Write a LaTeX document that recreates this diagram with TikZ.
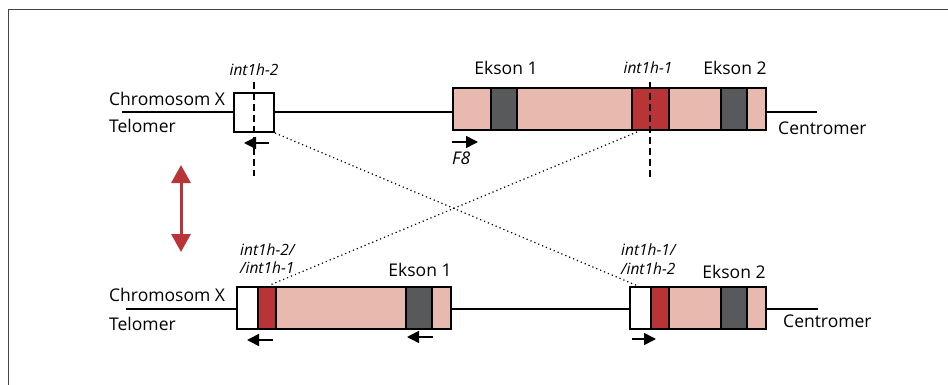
\documentclass[tikz,border=0pt]{standalone}
\usepackage{fontspec}
\setmainfont{Open Sans}
\usetikzlibrary{arrows.meta}
\definecolor{exonpink}{HTML}{E8B9AE}
\definecolor{intred}{HTML}{B93437}
\definecolor{exdark}{HTML}{58595B}
\definecolor{framegray}{HTML}{444444}
\tikzset{
  seg/.style={draw=black, line width=1.1pt, inner sep=0pt, outer sep=0pt, anchor=north west, minimum height=42pt},
  wseg/.style={seg, fill=white},
  pseg/.style={seg, fill=exonpink},
  rseg/.style={seg, fill=intred},
  dseg/.style={seg, fill=exdark},
  chrom/.style={line width=1.1pt, black},
  cut/.style={line width=1.2pt, dash pattern=on 7pt off 4pt},
  cross/.style={line width=1.2pt, dash pattern=on 1.2pt off 3pt},
  lab/.style={inner sep=0pt, font=\fontsize{17.5}{20}\selectfont},
  ilab/.style={inner sep=0pt, font=\fontsize{15.5}{19}\selectfont\itshape},
  prim/.style={line width=1.6pt, -{Triangle[length=12pt,width=12pt]}},
  swap/.style={line width=3pt, draw=intred, {Triangle[length=18pt,width=19pt]}-{Triangle[length=18pt,width=19pt]}}
}
\begin{document}
\begin{tikzpicture}[x=1pt,y=-1pt]
\useasboundingbox (0,0) rectangle (948,385);
\draw[framegray, line width=1.6pt] (8.5,385) -- (8.5,9.5) -- (948,9.5);

% ---------- top chromosome ----------
\coordinate (tA) at (122,112);
\coordinate (tZ) at (817,112);
\node[wseg, minimum width=40pt, minimum height=39pt] (sb) at (234,93) {};
\node[pseg, minimum width=38pt] (t1) at (453,88) {};
\node[dseg, minimum width=26pt] (t2) at (491,88) {};
\node[pseg, minimum width=115pt] (t3) at (517,88) {};
\node[rseg, minimum width=37pt] (t4) at (632,88) {};
\node[pseg, minimum width=52pt] (t5) at (669,88) {};
\node[dseg, minimum width=26pt] (t6) at (721,88) {};
\node[pseg, minimum width=19pt] (t7) at (747,88) {};
\draw[chrom] (tA) -- (tA -| sb.west);
\draw[chrom] (sb.east |- tA) -- (tA -| t1.west);
\draw[chrom] (t7.east |- tZ) -- (tZ);

% ---------- bottom chromosome ----------
\coordinate (bA) at (126,309);
\coordinate (bZ) at (818,309);
\node[wseg, minimum width=21pt] (l1) at (237,287) {};
\node[rseg, minimum width=18pt] (l2) at (258,287) {};
\node[pseg, minimum width=130pt] (l3) at (276,287) {};
\node[dseg, minimum width=26pt] (l4) at (406,287) {};
\node[pseg, minimum width=19pt] (l5) at (432,287) {};
\node[wseg, minimum width=21pt] (r1) at (630,287) {};
\node[rseg, minimum width=18pt] (r2) at (651,287) {};
\node[pseg, minimum width=52pt] (r3) at (669,287) {};
\node[dseg, minimum width=26pt] (r4) at (721,287) {};
\node[pseg, minimum width=19pt] (r5) at (747,287) {};
\draw[chrom] (bA) -- (bA -| l1.west);
\draw[chrom] (l5.east |- bA) -- (bA -| r1.west);
\draw[chrom] (r5.east |- bZ) -- (bZ);

% ---------- cut lines ----------
\coordinate (c1a) at (254,82);
\coordinate (c1b) at (254,176);
\coordinate (c2a) at (650,82);
\coordinate (c2b) at (650,177);
\draw[cut] (c1a) -- (c1b);
\draw[cut] (c2a) -- (c2b);

% ---------- crossing dotted lines ----------
\coordinate (x1a) at (275,133);
\coordinate (x1b) at (638,286);
\coordinate (x2a) at (637,132);
\coordinate (x2b) at (270,285);
\draw[cross] (x1a) -- (x1b);
\draw[cross] (x2a) -- (x2b);

% ---------- labels ----------
\node[lab, anchor=west] (chx1) at (109,99) {Chromosom X};
\node[lab, anchor=west] (tel1) at (109,126) {Telomer};
\node[lab, anchor=west] (cen1) at (778,128) {Centromer};
\node[lab] (ek1t) at (506,68) {Ekson 1};
\node[lab] (ek2t) at (735,68) {Ekson 2};
\node[ilab] (i2t) at (254,70) {int1h-2};
\node[ilab] (i1t) at (648,68) {int1h-1};
\node[ilab, anchor=west, font=\fontsize{17.5}{20}\selectfont\itshape] (f8) at (452,158) {F8};

\node[lab, anchor=west] (chx2) at (109,295) {Chromosom X};
\node[lab, anchor=west] (tel2) at (109,324) {Telomer};
\node[lab, anchor=west] (cen2) at (783,321) {Centromer};
\node[lab] (ek1b) at (420,270) {Ekson 1};
\node[lab] (ek2b) at (734,272) {Ekson 2};
\node[ilab, anchor=north west, align=left, fill=white, inner sep=1pt, font=\fontsize{15.5}{17.5}\selectfont\itshape] (ilb) at (239,243) {int1h-2/\\/int1h-1};
\node[ilab, anchor=north west, align=left, font=\fontsize{15.5}{19}\selectfont\itshape] (irb) at (621,244) {int1h-1/\\/int1h-2};

% ---------- primer arrows ----------
\coordinate (p1a) at (269,143);
\coordinate (p1b) at (244,143);
\coordinate (p2a) at (452,142);
\coordinate (p2b) at (478,142);
\coordinate (p3a) at (273,340);
\coordinate (p3b) at (247,340);
\coordinate (p4a) at (433,337);
\coordinate (p4b) at (407,337);
\coordinate (p5a) at (632,339);
\coordinate (p5b) at (656,339);
\draw[prim] (p1a) -- (p1b);
\draw[prim] (p2a) -- (p2b);
\draw[prim] (p3a) -- (p3b);
\draw[prim] (p4a) -- (p4b);
\draw[prim] (p5a) -- (p5b);

% ---------- exchange arrow ----------
\coordinate (sw1) at (181,165);
\coordinate (sw2) at (181,252);
\draw[swap] (sw1) -- (sw2);
\end{tikzpicture}
\end{document}
